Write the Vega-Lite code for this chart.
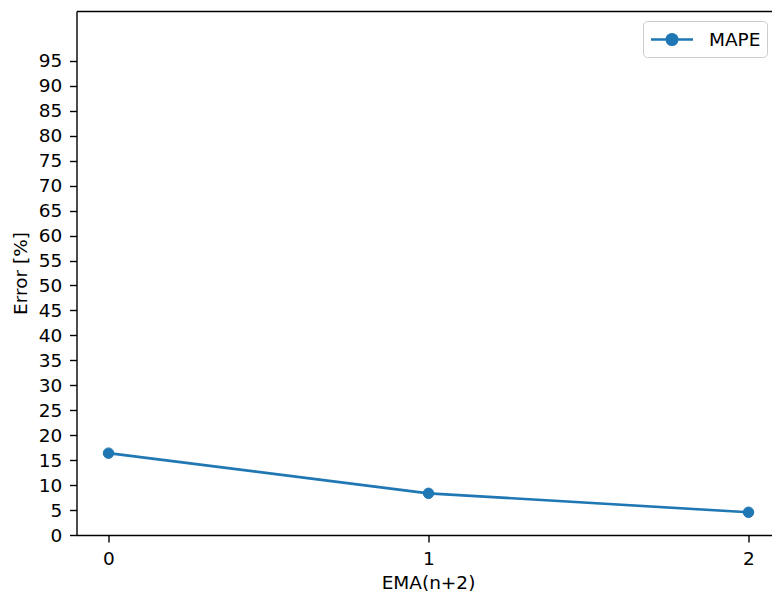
{
  "$schema": "https://vega.github.io/schema/vega-lite/v6.json",
  "width": 695.5,
  "height": 524,
  "autosize": "none",
  "padding": {"left": 76.5, "top": 11, "right": 0, "bottom": 56},
  "background": "white",
  "config": {
    "view": {"stroke": null},
    "font": "DejaVu Sans",
    "axis": {
      "grid": false,
      "domainColor": "black",
      "domainWidth": 1.4,
      "tickColor": "black",
      "tickWidth": 1.4,
      "tickSize": 7,
      "labelFont": "DejaVu Sans",
      "labelFontSize": 18.5,
      "labelColor": "black",
      "titleFont": "DejaVu Sans",
      "titleFontSize": 18.5,
      "titleFontWeight": "normal",
      "titleColor": "black"
    }
  },
  "data": {
    "values": [
      {"x": 0, "y": 16.4, "series": "MAPE"},
      {"x": 1, "y": 8.35, "series": "MAPE"},
      {"x": 2, "y": 4.55, "series": "MAPE"}
    ]
  },
  "resolve": {"axis": {"x": "independent"}},
  "layer": [
    {
      "mark": {
        "type": "line",
        "strokeWidth": 2.6,
        "color": "#1f77b4",
        "point": {"filled": true, "size": 110, "color": "#1f77b4", "stroke": "#1f77b4", "strokeWidth": 1}
      },
      "encoding": {
        "x": {
          "field": "x",
          "type": "quantitative",
          "title": "EMA(n+2)",
          "scale": {"domain": [-0.1, 2.0734], "nice": false, "zero": false},
          "axis": {
            "values": [0, 1, 2],
            "format": "d",
            "labelBaseline": "alphabetic",
            "labelPadding": 22.8,
            "titleX": 351.5,
            "titleY": 53,
            "titleBaseline": "alphabetic",
            "titleAlign": "center",
            "titleAnchor": null
          }
        },
        "y": {
          "field": "y",
          "type": "quantitative",
          "title": "Error [%]",
          "scale": {"domain": [0, 105], "nice": false},
          "axis": {
            "values": [0, 5, 10, 15, 20, 25, 30, 35, 40, 45, 50, 55, 60, 65, 70, 75, 80, 85, 90, 95],
            "labelPadding": 7.8,
            "labelOverlap": false,
            "titleX": -50.5,
            "titleY": 262,
            "titleBaseline": "alphabetic",
            "titleAlign": "center",
            "titleAngle": -90
          }
        },
        "color": {
          "field": "series",
          "type": "nominal",
          "scale": {"range": ["#1f77b4"]},
          "legend": {
            "title": null,
            "orient": "none",
            "legendX": 566.5,
            "legendY": 10,
            "fillColor": "white",
            "strokeColor": "#cccccc",
            "cornerRadius": 4,
            "padding": 6.5,
            "symbolOffset": 10.5,
            "symbolType": "M-2,0H2M-0.5,0A0.5,0.5,0,1,0,0.5,0A0.5,0.5,0,1,0,-0.5,0Z",
            "symbolSize": 441,
            "symbolStrokeWidth": 2.6,
            "symbolFillColor": "#1f77b4",
            "symbolStrokeColor": "#1f77b4",
            "labelFont": "DejaVu Sans",
            "labelFontSize": 18.5,
            "labelColor": "black",
            "labelOffset": 25
          }
        }
      }
    },
    {
      "mark": {"type": "rule", "opacity": 0},
      "encoding": {
        "x": {
          "field": "x",
          "type": "quantitative",
          "axis": {"orient": "top", "ticks": false, "labels": false, "title": null, "domain": true}
        }
      }
    }
  ]
}
